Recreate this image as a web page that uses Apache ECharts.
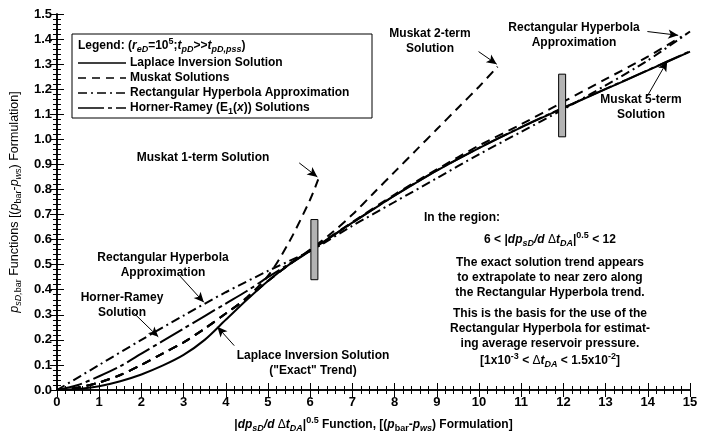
<!DOCTYPE html>
<html>
<head>
<meta charset="utf-8">
<script src="https://cdn.jsdelivr.net/npm/echarts@6/dist/echarts.min.js"></script>
<style>
  html, body { margin: 0; padding: 0; background: #fff; }
  #chart { width: 701px; height: 438px; }
</style>
</head>
<body>
<div id="chart"></div>
<script>
// Laplace inversion solution ("exact" trend)
const lapX = [0, 0.5, 1, 1.5, 2, 2.5, 3, 3.5, 4, 4.5, 5, 5.5, 6, 6.5, 7, 7.5, 8, 9, 10, 11, 12, 13, 14, 15];
const lapY = [0, 0.004, 0.015, 0.035, 0.062, 0.097, 0.14, 0.2, 0.28, 0.36, 0.435, 0.5, 0.555, 0.612, 0.668, 0.722, 0.775, 0.875, 0.965, 1.048, 1.125, 1.2, 1.275, 1.35];

// Horner-Ramey (E1(x)) solution
const hrX = [0, 0.5, 1, 1.5, 2, 2.5, 3, 3.5, 4, 4.5, 5, 5.5, 6, 7, 8, 9, 10, 11, 12, 13, 14, 15];
const hrY = [0, 0.02, 0.055, 0.095, 0.145, 0.195, 0.245, 0.295, 0.345, 0.395, 0.45, 0.503, 0.556, 0.667, 0.776, 0.876, 0.966, 1.049, 1.126, 1.201, 1.276, 1.351];

// Muskat solutions (1-, 2- and 5-term)
const mk1X = [0, 0.5, 1, 1.5, 2, 2.5, 3, 3.5, 4, 4.5, 5, 5.5, 6, 6.19];
const mk1Y = [0, 0.01, 0.03, 0.06, 0.1, 0.145, 0.19, 0.245, 0.305, 0.37, 0.455, 0.59, 0.76, 0.84];
const mk2X = [0, 0.5, 1, 1.5, 2, 2.5, 3, 3.5, 4, 4.5, 5, 5.5, 6, 6.5, 7, 7.5, 8, 8.5, 9, 9.5, 10, 10.44];
const mk2Y = [0, 0.01, 0.03, 0.06, 0.1, 0.145, 0.19, 0.245, 0.305, 0.365, 0.435, 0.5, 0.56, 0.625, 0.7, 0.785, 0.87, 0.955, 1.04, 1.125, 1.21, 1.29];
const mk5X = [0, 0.5, 1, 1.5, 2, 2.5, 3, 3.5, 4, 4.5, 5, 5.5, 6, 7, 8, 9, 10, 11, 12, 13, 14, 14.8];
const mk5Y = [0, 0.01, 0.03, 0.06, 0.1, 0.145, 0.19, 0.245, 0.305, 0.365, 0.435, 0.5, 0.558, 0.67, 0.78, 0.88, 0.975, 1.06, 1.15, 1.24, 1.33, 1.41];

// Rectangular hyperbola approximation
const rhX = [0, 1, 2, 3, 4, 5, 6, 7, 8, 9, 10, 11, 12, 13, 14, 15];
const rhY = [0, 0.1, 0.2, 0.297, 0.39, 0.475, 0.555, 0.655, 0.75, 0.845, 0.94, 1.03, 1.12, 1.215, 1.315, 1.43];

// Shaded bars marking the analysis region
const regionX = [6.1, 11.97];
const regionLow = [0.44, 1.01];
const regionHigh = [0.68, 1.26];

// Annotation arrows: [fromX, fromY, toX, toY]
const arrows = [
  [5.74, 0.906, 6.17, 0.85],   // Muskat 1-term
  [9.99, 1.35, 10.42, 1.30],   // Muskat 2-term
  [13.99, 1.43, 14.72, 1.415], // Rectangular hyperbola (upper)
  [13.99, 1.173, 14.46, 1.311],// Muskat 5-term
  [2.88, 0.461, 3.48, 0.35],   // Rectangular hyperbola (lower)
  [1.82, 0.307, 2.4, 0.212],   // Horner-Ramey
  [4.2, 0.177, 3.8, 0.252]     // Laplace inversion
];

const xTicks = { min: 0, max: 15, interval: 1 };
const yTicks = { min: 0, max: 1.5, interval: 0.1 };

const FONT = '"Liberation Sans", Arial, sans-serif';
const zip = (xs, ys) => xs.map((x, i) => [x, ys[i]]);

const richStyles = {
  n:   { fontFamily: FONT, fontWeight: 'bold', fontSize: 12, color: '#000' },
  r:   { fontFamily: FONT, fontWeight: 'normal', fontSize: 12, color: '#000' },
  i:   { fontFamily: FONT, fontWeight: 'bold', fontStyle: 'italic', fontSize: 12, color: '#000' },
  sub: { fontFamily: FONT, fontWeight: 'bold', fontStyle: 'italic', fontSize: 9, color: '#000', padding: [8, 0, 0, 0] },
  subn:{ fontFamily: FONT, fontWeight: 'bold', fontSize: 9, color: '#000', padding: [8, 0, 0, 0] },
  sup: { fontFamily: FONT, fontWeight: 'bold', fontSize: 9, color: '#000', padding: [0, 0, 8, 0] }
};

const axisLineStyle = { show: true, lineStyle: { color: '#000', width: 1.5 } };
const tickStyle = { show: true, inside: true, length: 7, lineStyle: { color: '#000', width: 1 } };
const minorStyle = { show: true, splitNumber: 5, length: 4, lineStyle: { color: '#000', width: 1 } };

function lineSeries(name, xs, ys, dash) {
  return {
    name: name,
    type: 'line',
    data: zip(xs, ys),
    showSymbol: false,
    smooth: 0.3,
    lineStyle: { color: '#000', width: 2, type: dash },
    z: 3
  };
}

const arrowLines = arrows.map(a => [
  { coord: [a[0], a[1]] },
  { coord: [a[2], a[3]] }
]);

const chart = echarts.init(document.getElementById('chart'), null, { renderer: 'canvas' });

const option = {
  animation: false,
  backgroundColor: '#fff',
  grid: { left: 55, right: 11, top: 14, bottom: 43 },
  xAxis: [
    {
      type: 'value', position: 'bottom', min: xTicks.min, max: xTicks.max, interval: xTicks.interval,
      axisLine: axisLineStyle, axisTick: tickStyle, minorTick: minorStyle, splitLine: { show: false },
      axisLabel: { color: '#000', fontFamily: FONT, fontWeight: 'bold', fontSize: 13, margin: 6 },
      name: '{n||}{i|dp}{sub|sD}{i|/d}{r| Δ}{i|t}{sub|DA}{n||}{sup|0.5}{n| Function, [(}{i|p}{subn|bar}{n|-}{i|p}{sub|ws}{n|) Formulation]}',
      nameLocation: 'middle', nameGap: 26,
      nameTextStyle: { rich: richStyles }
    },
    {
      type: 'value', position: 'top', min: xTicks.min, max: xTicks.max, interval: xTicks.interval,
      axisLine: axisLineStyle, axisTick: tickStyle, minorTick: minorStyle, splitLine: { show: false },
      axisLabel: { show: false }
    }
  ],
  yAxis: [
    {
      type: 'value', position: 'left', min: yTicks.min, max: yTicks.max, interval: yTicks.interval,
      axisLine: axisLineStyle, axisTick: tickStyle, minorTick: minorStyle, splitLine: { show: false },
      axisLabel: { color: '#000', fontFamily: FONT, fontWeight: 'bold', fontSize: 13, margin: 5,
        formatter: v => v.toFixed(1) },
      name: '{i|p}{sub|sD,}{subn|bar}{r| Functions [(}{i|p}{subn|bar}{r|-}{i|p}{sub|ws}{r|) Formulation]}',
      nameLocation: 'middle', nameGap: 19, nameRotate: 90,
      nameTextStyle: { rich: Object.assign({}, richStyles, {
        r: { fontFamily: FONT, fontSize: 12.5, color: '#000' },
        i: { fontFamily: FONT, fontStyle: 'italic', fontSize: 12.5, color: '#000' },
        sub: { fontFamily: FONT, fontStyle: 'italic', fontSize: 9, color: '#000', padding: [8, 0, 0, 0] },
        subn: { fontFamily: FONT, fontSize: 9, color: '#000', padding: [8, 0, 0, 0] }
      }) }
    },
    {
      type: 'value', position: 'right', min: yTicks.min, max: yTicks.max, interval: yTicks.interval,
      axisLine: axisLineStyle, axisTick: tickStyle, minorTick: minorStyle, splitLine: { show: false },
      axisLabel: { show: false }
    }
  ],
  series: [
    Object.assign(lineSeries('Laplace Inversion Solution', lapX, lapY, 'solid'), {
      markLine: {
        silent: true, animation: false,
        symbol: ['none', 'arrow'], symbolSize: [7, 10],
        label: { show: false },
        lineStyle: { color: '#000', width: 1, type: 'solid' },
        data: arrowLines
      }
    }),
    lineSeries('Horner-Ramey (E1(x)) Solutions', hrX, hrY, [26, 4, 4, 4]),
    lineSeries('Muskat 1-term', mk1X, mk1Y, [9, 6]),
    lineSeries('Muskat 2-term', mk2X, mk2Y, [9, 6]),
    lineSeries('Muskat 5-term', mk5X, mk5Y, [9, 6]),
    lineSeries('Rectangular Hyperbola Approximation', rhX, rhY, [9, 4, 2, 4]),
    {
      name: 'Region',
      type: 'custom',
      data: regionX.map((x, i) => [x, regionLow[i], regionHigh[i]]),
      encode: { x: 0, y: [1, 2] },
      z: 4,
      renderItem: function (params, api) {
        const x = api.value(0);
        const lo = api.coord([x, api.value(1)]);
        const hi = api.coord([x, api.value(2)]);
        const w = 7;
        return {
          type: 'rect',
          shape: { x: lo[0] - w / 2, y: hi[1], width: w, height: lo[1] - hi[1] },
          style: { fill: '#b3b3b3', stroke: '#000', lineWidth: 1 }
        };
      }
    }
  ]
};

chart.setOption(option);

// Text annotations and legend box
function txt(x, y, text, align, rich) {
  return {
    type: 'text', x: x, y: y, z: 10,
    style: {
      text: text, rich: rich || richStyles,
      font: 'bold 12px ' + FONT, fill: '#000',
      textAlign: align || 'center', align: align || 'center',
      textVerticalAlign: 'middle', verticalAlign: 'middle'
    }
  };
}

const legendLineX0 = 78, legendLineX1 = 126;
const legendRows = [
  { y: 63, text: '{n|Laplace Inversion Solution}', dash: 'solid' },
  { y: 78, text: '{n|Muskat Solutions}', dash: [8, 6] },
  { y: 93, text: '{n|Rectangular Hyperbola Approximation}', dash: [9, 4, 2, 4] },
  { y: 108, text: '{n|Horner-Ramey (E}{subn|1}{n|(}{i|x}{n|)) Solutions}', dash: [26, 4, 4, 4] }
];

const graphics = [
  { type: 'rect', z: 9, shape: { x: 72, y: 34, width: 300, height: 84 },
    style: { fill: '#fff', stroke: '#000', lineWidth: 1 } },
  txt(78, 46, '{n|Legend: (}{i|r}{sub|eD}{n|=10}{sup|5}{n|;}{i|t}{sub|pD}{n|>>}{i|t}{sub|pD,pss}{n|)}', 'left')
];
legendRows.forEach(r => {
  graphics.push({
    type: 'line', z: 10,
    shape: { x1: legendLineX0, y1: r.y, x2: legendLineX1, y2: r.y },
    style: { stroke: '#000', lineWidth: 1.5, lineDash: r.dash === 'solid' ? null : r.dash }
  });
  graphics.push(txt(130, r.y, r.text, 'left'));
});

graphics.push(
  txt(203, 158, '{n|Muskat 1-term Solution}'),
  txt(430, 34, '{n|Muskat 2-term}'),
  txt(430, 49, '{n|Solution}'),
  txt(574, 28, '{n|Rectangular Hyperbola}'),
  txt(574, 43, '{n|Approximation}'),
  txt(641, 100, '{n|Muskat 5-term}'),
  txt(641, 115, '{n|Solution}'),
  txt(163, 258, '{n|Rectangular Hyperbola}'),
  txt(163, 273, '{n|Approximation}'),
  txt(122, 298, '{n|Horner-Ramey}'),
  txt(122, 313, '{n|Solution}'),
  txt(313, 356, '{n|Laplace Inversion Solution}'),
  txt(313, 371, '{n|("Exact" Trend)}'),
  txt(424, 218, '{n|In the region:}', 'left'),
  txt(550, 240, '{n|6 < |}{i|dp}{sub|sD}{i|/d}{r| Δ}{i|t}{sub|DA}{n||}{sup|0.5}{n| < 12}'),
  txt(550, 263, '{n|The exact solution trend appears}'),
  txt(550, 278, '{n|to extrapolate to near zero along}'),
  txt(550, 293, '{n|the Rectangular Hyperbola trend.}'),
  txt(550, 314, '{n|This is the basis for the use of the}'),
  txt(550, 329, '{n|Rectangular Hyperbola for estimat-}'),
  txt(550, 344, '{n|ing average reservoir pressure.}'),
  txt(550, 361, '{n|[1x10}{sup|-3}{n| < }{r|Δ}{i|t}{sub|DA}{n| < 1.5x10}{sup|-2}{n|]}')
);

chart.setOption({ graphic: graphics });
</script>
</body>
</html>
